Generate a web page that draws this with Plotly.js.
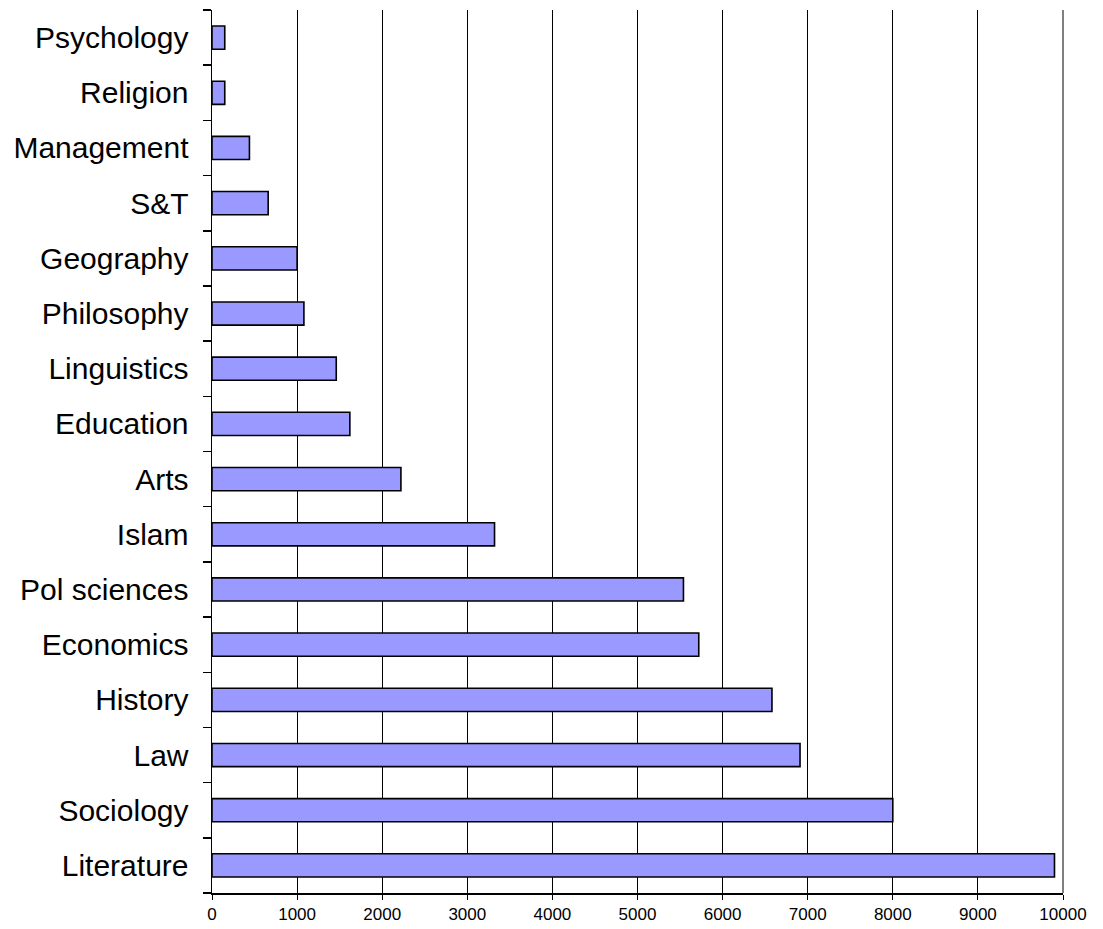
<!DOCTYPE html>
<html>
<head>
<meta charset="utf-8">
<script src="https://cdn.plot.ly/plotly-3.0.1.min.js"></script>
<style>
html,body{margin:0;padding:0;background:#fff;}
#chart{width:1103px;height:929px;}
</style>
</head>
<body>
<div id="chart"></div>
<script>
const categories = ["Literature","Sociology","Law","History","Economics","Pol sciences","Islam","Arts","Education","Linguistics","Philosophy","Geography","S&T","Management","Religion","Psychology"];
const values = [9900, 8000, 6910, 6580, 5720, 5540, 3320, 2220, 1620, 1460, 1080, 1000, 660, 440, 150, 150];
const xTicks = [0,1000,2000,3000,4000,5000,6000,7000,8000,9000,10000];

const trace = {
  type: 'bar',
  orientation: 'h',
  x: values,
  y: categories,
  width: 0.42,
  marker: {color: '#9999FF', line: {color: '#000000', width: 1.6}},
  hoverinfo: 'x+y'
};

const layout = {
  width: 1103, height: 929,
  margin: {l: 212, r: 40, t: 10, b: 36, pad: 0},
  paper_bgcolor: '#ffffff', plot_bgcolor: '#ffffff',
  showlegend: false,
  xaxis: {
    range: [0, 10000],
    tickmode: 'array',
    tickvals: xTicks,
    ticktext: xTicks.map(String),
    showgrid: true, gridcolor: '#000000', gridwidth: 1,
    showline: true, linecolor: '#000000', linewidth: 1.5,
    ticks: 'outside', ticklen: 5, tickcolor: '#000000',
    tickfont: {family: 'Liberation Sans, Arial, sans-serif', size: 17, color: '#000000'},
    tickangle: 0,
    zeroline: false, fixedrange: true
  },
  yaxis: {
    type: 'category',
    categoryorder: 'array',
    categoryarray: categories,
    range: [-0.5, 15.5],
    showgrid: false,
    showline: true, linecolor: '#000000', linewidth: 1.5,
    ticks: 'outside', ticklen: 8, tickcolor: '#000000', tickwidth: 1.5,
    tickson: 'boundaries',
    ticklabelstandoff: 16,
    tickfont: {family: 'Liberation Sans, Arial, sans-serif', size: 30, color: '#000'},
    zeroline: false, fixedrange: true
  },
  shapes: [{
    type: 'line', xref: 'paper', yref: 'paper',
    x0: 1, x1: 1, y0: 0, y1: 1,
    line: {color: '#000000', width: 1}
  }]
};

Plotly.newPlot('chart', [trace], layout, {displayModeBar: false, staticPlot: true});
</script>
</body>
</html>
